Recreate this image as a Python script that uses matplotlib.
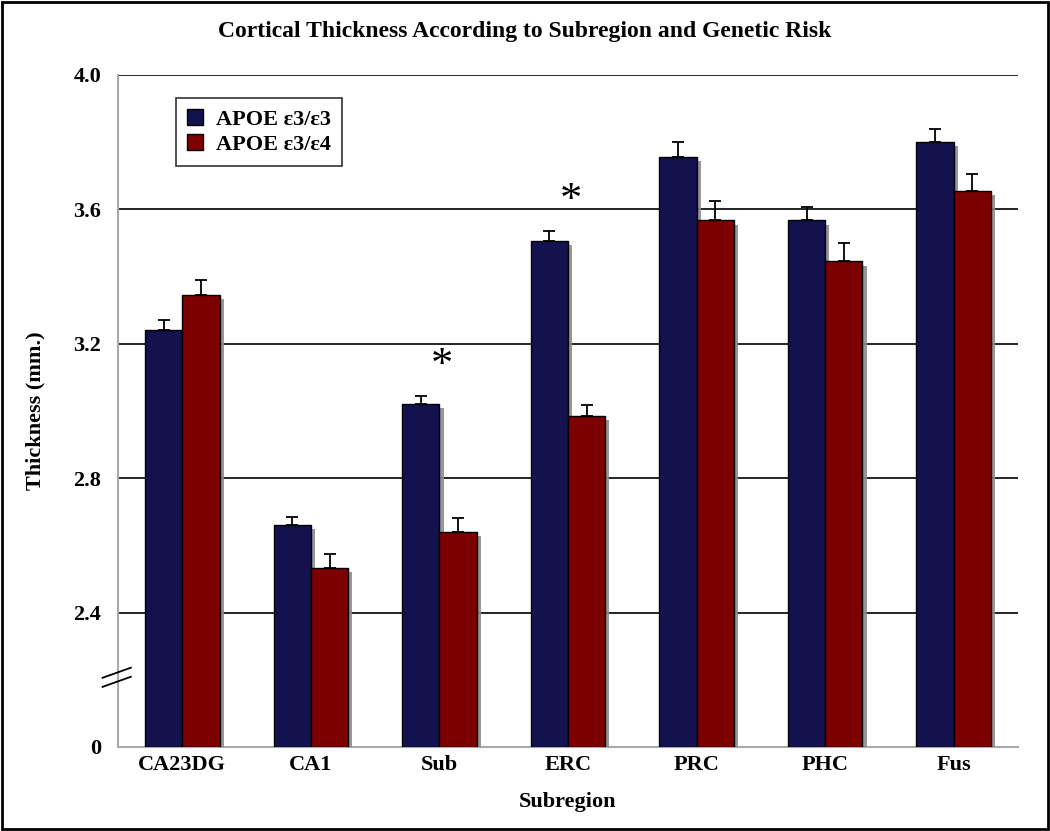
import matplotlib
matplotlib.use("Agg")
import matplotlib.pyplot as plt
import matplotlib.patheffects as pe
from matplotlib.patches import Rectangle
import numpy as np

categories = ["CA23DG", "CA1", "Sub", "ERC", "PRC", "PHC", "Fus"]
e33 = [3.24, 2.66, 3.02, 3.505, 3.755, 3.567, 3.80]
e33_err = [0.032, 0.024, 0.024, 0.030, 0.045, 0.039, 0.039]
e34 = [3.346, 2.534, 2.639, 2.985, 3.567, 3.445, 3.654]
e34_err = [0.045, 0.039, 0.042, 0.033, 0.057, 0.054, 0.050]
yticks = [2.0, 2.4, 2.8, 3.2, 3.6, 4.0]
yticklabels = ["0", "2.4", "2.8", "3.2", "3.6", "4.0"]
sig_groups = ["Sub", "ERC"]

plt.rcParams['font.family'] = ['Liberation Serif', 'DejaVu Serif']

fig = plt.figure(figsize=(10.5, 8.31), dpi=100)
ax = fig.add_axes([118/1050, 1-747/831, 900/1050, 672/831])

x = np.arange(len(categories))
w = 0.29
blue = "#13124f"
red = "#7c0000"
shadow = [pe.SimplePatchShadow(offset=(3, -3), shadow_rgbFace="#8c8c8c", alpha=0.9), pe.Normal()]

b1 = ax.bar(x - w/2, [v - 2.0 for v in e33], w, bottom=2.0, color=blue, edgecolor="black",
            linewidth=1.0, label="APOE ε3/ε3", zorder=3)
b2 = ax.bar(x + w/2, [v - 2.0 for v in e34], w, bottom=2.0, color=red, edgecolor="black",
            linewidth=1.0, label="APOE ε3/ε4", zorder=3)

ax.errorbar(x - w/2, e33, yerr=[[0]*len(e33), e33_err], fmt="none", ecolor="black",
            elinewidth=1.3, capsize=4.5, capthick=1.3, zorder=2)
ax.errorbar(x + w/2, e34, yerr=[[0]*len(e34), e34_err], fmt="none", ecolor="black",
            elinewidth=1.3, capsize=4.5, capthick=1.3, zorder=2)

ax.set_xlim(-0.5, len(categories) - 0.5)
ax.set_ylim(2.0, 4.0)
ax.set_yticks(yticks)
ax.set_yticklabels(yticklabels)
ax.set_xticks(x)
ax.set_xticklabels(categories)
for lab in ax.get_xticklabels() + ax.get_yticklabels():
    lab.set_fontweight("bold")
    lab.set_fontsize(16)
ax.tick_params(axis="x", length=0, pad=6)
ax.tick_params(axis="y", length=0, pad=12)

for v in yticks[1:]:
    ax.axhline(v, color="black", linewidth=1.2, zorder=1)

for s in ["top", "right"]:
    ax.spines[s].set_visible(False)
for s in ["left", "bottom"]:
    ax.spines[s].set_color("#aaaaaa")
    ax.spines[s].set_linewidth(1.5)

# axis break marks
for y0 in (2.179, 2.206):
    ax.plot([-0.62, -0.40], [y0, y0 + 0.03], color="black", linewidth=1.3,
            clip_on=False, zorder=5)

# significance asterisks
for g in sig_groups:
    i = categories.index(g)
    top = max(e33[i] + e33_err[i], e34[i] + e34_err[i])
    ax.text(x[i] + 0.02, top + 0.03, "*", ha="center", va="bottom", fontsize=32)

ax.set_ylabel("Thickness (mm.)", fontsize=16, fontweight="bold", labelpad=20)
ax.set_xlabel("Subregion", fontsize=16, fontweight="bold", labelpad=12)
fig.text(0.5, 1 - 32/831, "Cortical Thickness According to Subregion and Genetic Risk",
         ha="center", va="center", fontsize=17, fontweight="bold")

leg = ax.legend(loc="upper left", bbox_to_anchor=(0.052, 0.982), frameon=True, fancybox=False,
                edgecolor="black", handlelength=0.7, handleheight=0.7,
                borderpad=0.5, handletextpad=0.6, labelspacing=0.2, borderaxespad=0.5,
                prop={"weight": "bold", "size": 16})
leg.get_frame().set_linewidth(1.2)

# shadows on bars only (after legend creation so legend handles stay plain)
for b in list(b1) + list(b2):
    b.set_path_effects(shadow)

fig.patches.append(Rectangle((0.002, 0.002), 0.996, 0.996, transform=fig.transFigure,
                             fill=False, edgecolor="black", linewidth=2))

fig.savefig("out.png", dpi=100)
